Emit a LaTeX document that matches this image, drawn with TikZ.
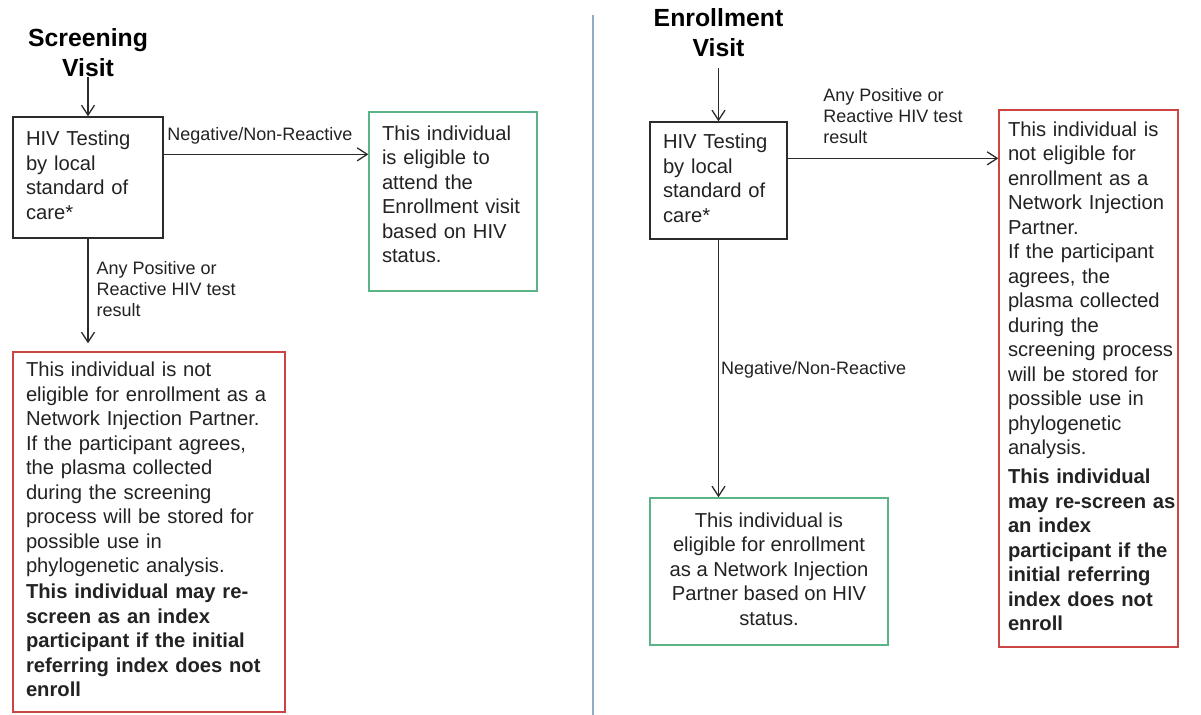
\documentclass[tikz,border=0pt]{standalone}
\usepackage{fontspec}
\setmainfont{Liberation Sans}
\usetikzlibrary{arrows.meta}
\definecolor{txt}{HTML}{222222}
\definecolor{boxk}{HTML}{2B2B2B}
\definecolor{grn}{HTML}{5AB487}
\definecolor{rd}{HTML}{CC4444}
\definecolor{divb}{HTML}{8FAACB}
\newcommand{\rowsL}[1]{\begin{tabular}{@{}l@{}}#1\end{tabular}}
\newcommand{\rowsC}[1]{\begin{tabular}{@{}c@{}}#1\end{tabular}}
\newcommand{\bodyf}{\fontsize{10.1pt}{12.25pt}\selectfont}
\newcommand{\lblf}{\fontsize{9pt}{10.4pt}\selectfont}
\newcommand{\titf}{\bfseries\fontsize{12.4pt}{15pt}\selectfont}
\begin{document}
\begin{tikzpicture}[x=0.5pt,y=-0.5pt,
  box/.style={draw=boxk, line width=0.65pt, inner ysep=0pt, text=txt, font=\bodyf},
  lbox/.style={box, align=left, inner xsep=6.5pt},
  arr/.style={-{Straight Barb[length=5pt,width=6.5pt]}, line width=0.65pt, draw=boxk},
  lbl/.style={font=\lblf, text=txt, inner sep=0pt, align=left},
  title/.style={font=\titf, align=center, inner sep=0pt, text=black}]
\useasboundingbox (0,0) rectangle (1201,715);

% divider
\draw[divb, line width=0.8pt] (593,15) -- (593,715);

% ---------- left: screening ----------
\node[title] (t1) at (88,53) {Screening\\Visit};
\node[lbox, text width=62pt, minimum height=60.5pt] (h1) at (88,177.5)
  {\rowsL{HIV Testing\\by local\\standard of\\care*}};
\node[lbox, draw=grn, text width=71pt, minimum height=89.5pt] (g1) at (453,201.5)
  {\rowsL{This individual\\is eligible to\\attend the\\Enrollment visit\\based on HIV\\status.\\[5pt]}};
\node[lbox, draw=rd, text width=123pt, minimum height=180pt] (r1) at (149,532)
  {\rowsL{This individual is not\\eligible for enrollment as a\\Network Injection Partner.\\If the participant agrees,\\the plasma collected\\during the screening\\process will be stored for\\possible use in\\phylogenetic analysis.\\[0.75pt]
  \textbf{This individual may re-}\\\textbf{screen as an index}\\\textbf{participant if the initial}\\\textbf{referring index does not}\\\textbf{enroll}}};

\draw[arr] (t1.south) -- (h1.north);
\draw[arr] ([yshift=-19pt]h1.north east) coordinate (a1) -- (a1 -| g1.west)
  node[lbl, above=4.5pt, pos=0.47] {Negative/Non-Reactive};
\draw[arr, shorten >=4pt] (h1.south) -- (h1.south |- r1.north)
  node[lbl, pos=0.45, anchor=west, xshift=4pt] {Any Positive or\\Reactive HIV test\\result};

% ---------- right: enrollment ----------
\node[title] (t2) at (718.5,33) {Enrollment\\Visit};
\node[lbox, text width=55.5pt, minimum height=58.5pt] (h2) at (718.5,180.5)
  {\rowsL{HIV Testing\\by local\\standard of\\care*}};
\node[box, draw=rd, align=left, inner xsep=4.5pt, text width=80.5pt, minimum height=268.5pt] (r2) at (1088.5,378.5)
  {\rowsL{This individual is\\not eligible for\\enrollment as a\\Network Injection\\Partner.\\If the participant\\agrees, the\\plasma collected\\during the\\screening process\\will be stored for\\possible use in\\phylogenetic\\analysis.\\[2.25pt]
  \textbf{This individual}\\\textbf{may re-screen as}\\\textbf{an index}\\\textbf{participant if the}\\\textbf{initial referring}\\\textbf{index does not}\\\textbf{enroll}}};
\node[box, draw=grn, align=center, minimum width=119pt, minimum height=73.5pt] (g2) at (769,571.5)
  {\rowsC{This individual is\\eligible for enrollment\\as a Network Injection\\Partner based on HIV\\status.}};

\draw[arr, shorten <=5.5pt] (t2.south) -- (h2.north);
\draw[arr] ([yshift=-18.5pt]h2.north east) coordinate (a2) -- (a2 -| r2.west)
  node[lbl, above=7pt, pos=0.5] {Any Positive or\\Reactive HIV test\\result};
\draw[arr] (h2.south) -- (h2.south |- g2.north)
  node[lbl, pos=0.507, anchor=west, xshift=1pt] {Negative/Non-Reactive};
\end{tikzpicture}
\end{document}
